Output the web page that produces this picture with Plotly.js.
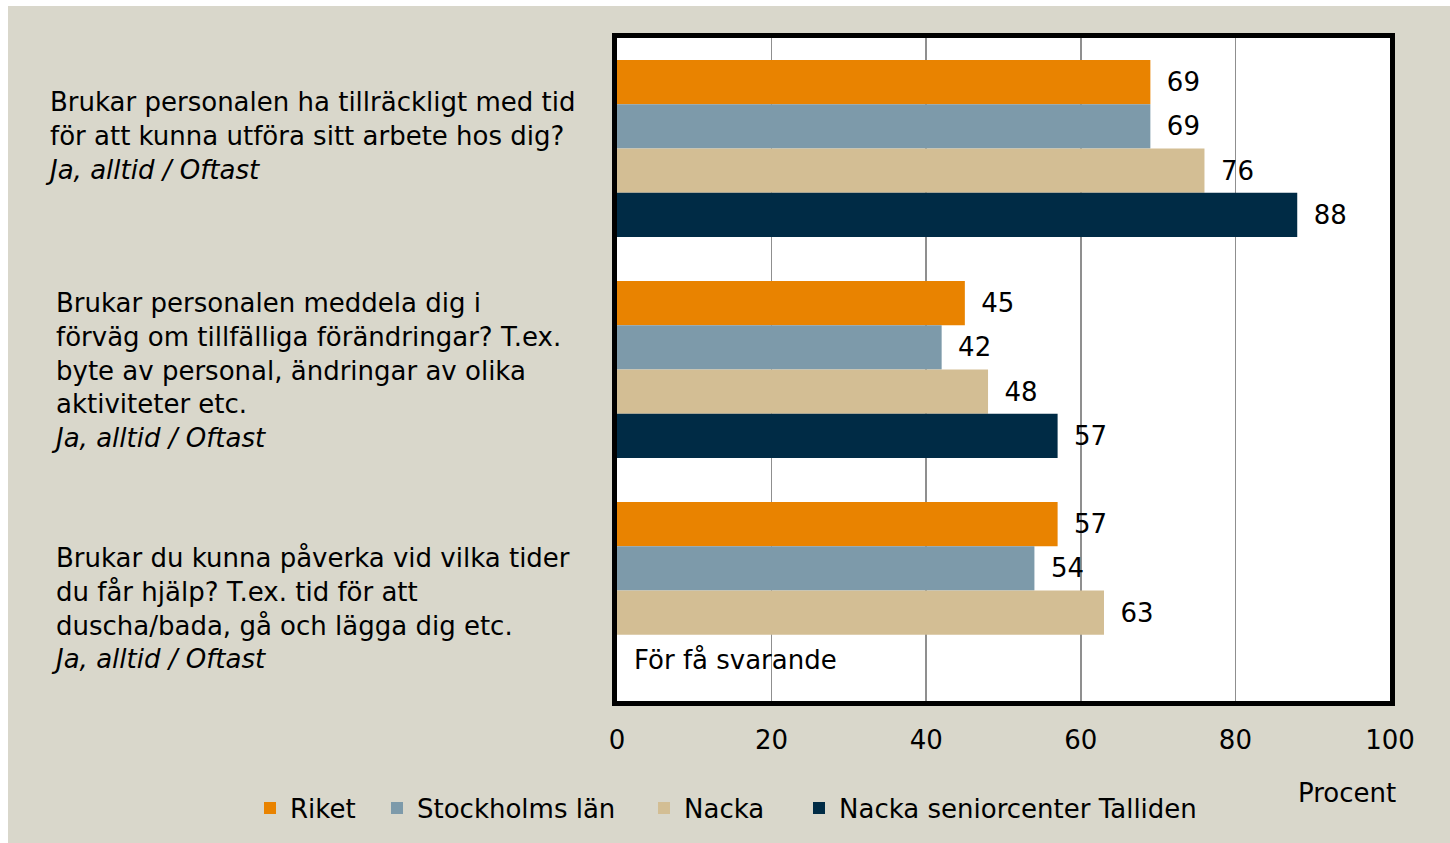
<!DOCTYPE html>
<html>
<head>
<meta charset="utf-8">
<script src="https://cdn.plot.ly/plotly-3.0.1.min.js"></script>
<style>
  html, body { margin: 0; padding: 0; background: #ffffff; }
  #chart { position: absolute; left: 8px; top: 6px; width: 1442px; height: 837px; }
</style>
</head>
<body>
<div id="chart"></div>
<script>
// ---- data ----
const categories = ["q1", "q2", "q3"];
const questionTexts = [
  "Brukar personalen ha tillräckligt med tid<br>för att kunna utföra sitt arbete hos dig?<br><i>Ja, alltid / Oftast</i>",
  "Brukar personalen meddela dig i<br>förväg om tillfälliga förändringar? T.ex.<br>byte av personal, ändringar av olika<br>aktiviteter etc.<br><i>Ja, alltid / Oftast</i>",
  "Brukar du kunna påverka vid vilka tider<br>du får hjälp? T.ex. tid för att<br>duscha/bada, gå och lägga dig etc.<br><i>Ja, alltid / Oftast</i>"
];
const seriesNames = ["Riket", "Stockholms län", "Nacka", "Nacka seniorcenter Talliden"];
const riket = [69, 45, 57];
const stockholm = [69, 42, 54];
const nacka = [76, 48, 63];
const talliden = [88, 57, null];
const xTicks = [0, 20, 40, 60, 80, 100];
const tooFewText = "För få svarande";
const axisUnit = "Procent";

const colors = ["#E98300", "#7D9AAA", "#D3BE94", "#002B45"];
const FONT = "'DejaVu Sans', 'Noto Sans', sans-serif";
const FS = 26;

const W = 1442, ML = 609, MR = 60;
const plotW = W - ML - MR;
function px2paperX(px) { return (px - 8 - ML) / plotW; }
const plotTop = 38, plotBot = 701;
function px2paperY(py) { return (plotBot - py) / (plotBot - plotTop); }

const legendIds = ["legend", "legend2", "legend3", "legend4"];
const legendLeft = [250, 377, 644, 799];

const allSeries = [riket, stockholm, nacka, talliden];
const traces = allSeries.map((vals, i) => ({
  type: "bar",
  orientation: "h",
  name: seriesNames[i],
  legend: legendIds[i],
  y: categories,
  x: vals,
  marker: { color: colors[i], line: { width: 0 } },
  text: vals.map(v => v === null ? "" : "\u00a0\u2009" + v),
  textposition: "outside",
  textfont: { family: FONT, size: FS, color: "#000" },
  cliponaxis: false,
  hoverinfo: "x+name"
}));

const annotations = [];
const labelLeft = [43, 49, 49];
const labelCenter = [136, 370, 608];
questionTexts.forEach((t, i) => {
  annotations.push({
    xref: "paper", yref: "paper",
    x: px2paperX(labelLeft[i]), y: px2paperY(labelCenter[i]),
    xanchor: "left", yanchor: "middle", align: "left",
    text: t, showarrow: false,
    font: { family: FONT, size: FS, color: "#000" }
  });
});
annotations.push({
  xref: "x", yref: "paper", x: 0, xshift: 15, y: px2paperY(660),
  xanchor: "left", yanchor: "middle", text: tooFewText, showarrow: false,
  font: { family: FONT, size: FS, color: "#000" }
});
annotations.push({
  xref: "paper", yref: "paper", x: px2paperX(1398), y: px2paperY(793),
  xanchor: "right", yanchor: "middle", text: axisUnit, showarrow: false,
  font: { family: FONT, size: FS, color: "#000" }
});

const layout = {
  width: 1442, height: 837,
  paper_bgcolor: "#D9D7CB",
  plot_bgcolor: "#ffffff",
  margin: { l: ML, r: MR, t: 32, b: 142, pad: 0 },
  barmode: "group",
  bargap: 0.2,
  bargroupgap: 0,
  showlegend: true,
  xaxis: {
    range: [0, 100], tickvals: xTicks, ticktext: xTicks.map(String),
    showgrid: true, gridcolor: "#8f8f8f", gridwidth: 1.5,
    zeroline: false, showline: true, mirror: true,
    linecolor: "#000", linewidth: 5, ticks: "",
    ticklabelstandoff: 12,
    tickfont: { family: FONT, size: FS, color: "#000" }
  },
  yaxis: {
    type: "category", categoryorder: "array", categoryarray: categories,
    autorange: "reversed", showticklabels: false, showgrid: false,
    zeroline: false, showline: true, mirror: true,
    linecolor: "#000", linewidth: 5, ticks: ""
  },
  annotations: annotations,
  font: { family: FONT }
};
legendIds.forEach((id, i) => {
  layout[id] = {
    orientation: "h", x: px2paperX(legendLeft[i]), xanchor: "left",
    y: px2paperY(808), yanchor: "middle",
    font: { family: FONT, size: FS, color: "#000" },
    bgcolor: "rgba(0,0,0,0)"
  };
});

Plotly.newPlot("chart", traces, layout, { displayModeBar: false, staticPlot: true });
</script>
</body>
</html>
